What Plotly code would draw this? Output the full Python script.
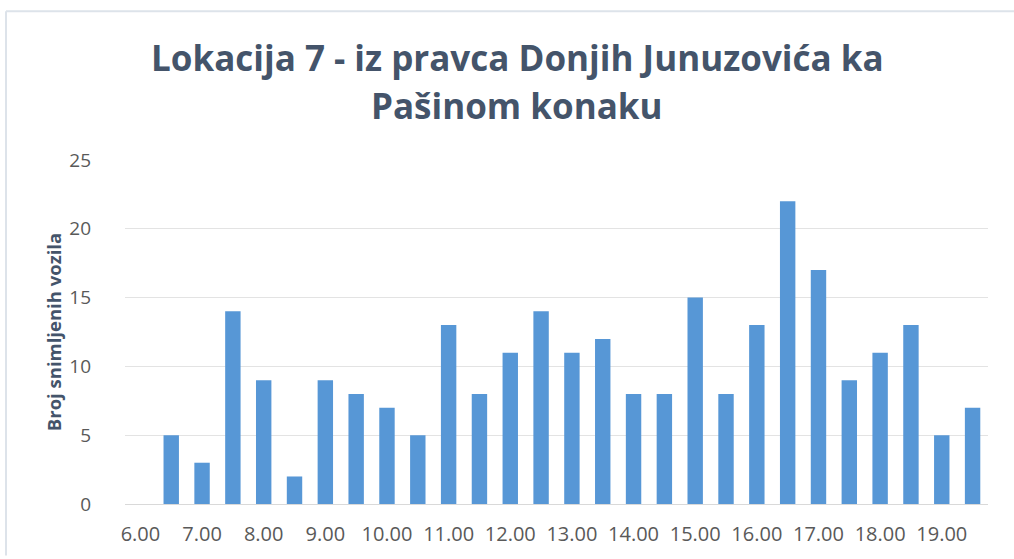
import plotly.graph_objects as go

# Half-hour intervals and number of recorded vehicles
intervals = ["6.00", "6.30", "7.00", "7.30", "8.00", "8.30", "9.00", "9.30",
             "10.00", "10.30", "11.00", "11.30", "12.00", "12.30", "13.00", "13.30",
             "14.00", "14.30", "15.00", "15.30", "16.00", "16.30", "17.00", "17.30",
             "18.00", "18.30", "19.00", "19.30"]
vehicles = [0, 5, 3, 14, 9, 2, 9, 8, 7, 5, 13, 8, 11, 14, 11, 12,
            8, 8, 15, 8, 13, 22, 17, 9, 11, 13, 5, 7]

# Only full hours are labelled on the category axis
hour_labels = intervals[::2]

title_lines = ["Lokacija 7 - iz pravca Donjih Junuzovića ka", "Pašinom konaku"]
y_title = "Broj snimljenih vozila"

# plot-area edges in pixels
L, R, T, B = 125, 988, 160, 507
W, H = R - L, B - T

fig = go.Figure()
fig.add_trace(go.Bar(
    x=intervals,
    y=vehicles,
    marker=dict(color="#5797d6", line=dict(width=0)),
))

title_font = dict(family="Open Sans", size=35, color="#44546a", weight="bold")

fig.update_layout(
    width=1014,
    height=559,
    margin=dict(l=L, r=1014 - R, t=T, b=559 - B),
    paper_bgcolor="white",
    plot_bgcolor="white",
    bargap=0.5,
    showlegend=False,
    font=dict(family="Open Sans", color="#595959"),
    annotations=[
        dict(text=title_lines[0], xref="paper", yref="paper",
             x=(517 - L) / W, y=(B - 57) / H,
             xanchor="center", yanchor="middle", showarrow=False,
             font=title_font),
        dict(text=title_lines[1], xref="paper", yref="paper",
             x=(517 - L) / W, y=(B - 105) / H,
             xanchor="center", yanchor="middle", showarrow=False,
             font=title_font),
    ],
    xaxis=dict(
        type="category",
        categoryorder="array",
        categoryarray=intervals,
        tickmode="array",
        tickvals=hour_labels,
        ticktext=hour_labels,
        showgrid=False,
        showline=True,
        linecolor="#d9d9d9",
        linewidth=1,
        ticks="",
        ticklabelstandoff=12,
        tickfont=dict(size=20, color="#595959"),
        range=[-0.5, len(intervals) - 0.5],
    ),
    yaxis=dict(
        range=[0, 25],
        tickvals=[0, 5, 10, 15, 20, 25],
        showgrid=True,
        gridcolor="#e3e3e3",
        gridwidth=1,
        zeroline=False,
        showline=False,
        ticks="",
        ticklabelstandoff=33,
        tickfont=dict(size=19, color="#595959"),
        title=dict(
            text=y_title,
            standoff=2,
            font=dict(family="Open Sans", size=18.5, color="#44546a", weight="bold"),
        ),
    ),
    shapes=[
        # outer frame of the chart area (top and left edges)
        dict(type="line", xref="paper", yref="paper",
             x0=(6 - L) / W, x1=(1014 - L) / W,
             y0=(B - 10) / H, y1=(B - 10) / H,
             line=dict(color="#dde3ea", width=2)),
        dict(type="line", xref="paper", yref="paper",
             x0=(6 - L) / W, x1=(6 - L) / W,
             y0=(B - 10) / H, y1=(B - 559) / H,
             line=dict(color="#dde3ea", width=2)),
    ],
)

fig.write_html("out.html")
